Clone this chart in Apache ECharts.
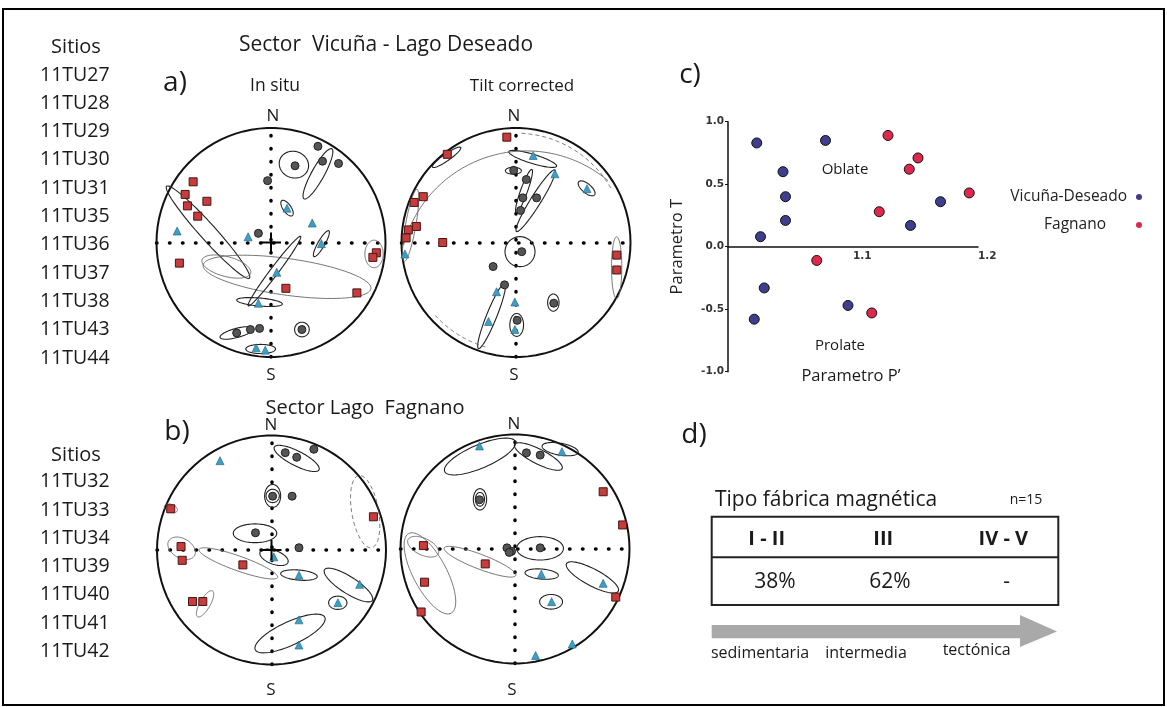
<!DOCTYPE html>
<html><head><meta charset="utf-8">
<script src="https://cdn.jsdelivr.net/npm/echarts@6/dist/echarts.min.js"></script>
<style>html,body{margin:0;padding:0;background:#fff}#c{width:1167px;height:707px}</style>
</head><body><div id="c"></div>
<script>
// ---------- site lists ----------
const sitesVicuna = ['11TU27','11TU28','11TU29','11TU30','11TU31','11TU35','11TU36','11TU37','11TU38','11TU43','11TU44'];
const sitesFagnano = ['11TU32','11TU33','11TU34','11TU39','11TU40','11TU41','11TU42'];

// ---------- panel c: P' vs T ----------
const vicunaP = [1.023,1.078,1.044,1.046,1.046,1.026,1.029,1.021,1.096,1.146,1.170];
const vicunaT = [0.83,0.85,0.60,0.40,0.21,0.08,-0.33,-0.58,-0.47,0.17,0.36];
const fagnanoP = [1.128,1.152,1.145,1.193,1.121,1.071,1.115];
const fagnanoT = [0.89,0.71,0.62,0.43,0.28,-0.11,-0.53];
const pTicks = [1.0,1.1,1.2];
const tTicks = [-1.0,-0.5,0.0,0.5,1.0];

// ---------- panel d ----------
const fabricTypes = ['I - II','III','IV - V'];
const fabricPct = ['38%','62%','-'];
const fabricScale = ['sedimentaria','intermedia','tectónica'];

// ---------- stereonets (normalised coords, N up) ----------
// a) In situ
const aInSituSquares = [[-0.68,0.53],[-0.75,0.42],[-0.73,0.32],[-0.56,0.36],[-0.64,0.23],[-0.80,-0.18],[0.92,-0.09],[0.89,-0.13],[0.75,-0.44],[0.13,-0.40]];
const aInSituCircles = [[0.21,0.67],[0.45,0.71],[0.41,0.84],[0.59,0.69],[-0.03,0.54],[-0.11,0.08],[0.27,-0.76],[-0.18,-0.76],[-0.30,-0.79],[-0.10,-0.75]];
const aInSituTriangles = [[-0.82,0.10],[0.14,0.30],[0.36,0.17],[0.44,-0.01],[-0.20,0.05],[0.05,-0.26],[-0.11,-0.53],[-0.13,-0.92],[-0.05,-0.94]];
const aInSituEllipses = [[0.20,0.68,0.13,0.115,-20,0],[0.41,0.60,0.25,0.055,61,0],[-0.55,0.09,0.54,0.07,-48,0],[0.14,-0.30,0.74,0.16,-8,1],[-0.39,-0.21,0.22,0.087,-15,1],[0.03,-0.25,0.38,0.035,53,0],[-0.10,-0.52,0.20,0.035,-5,0],[0.27,-0.76,0.064,0.064,0,0],[0.14,0.30,0.08,0.035,-55,0],[0.44,-0.01,0.13,0.03,60,0],[0.90,-0.10,0.08,0.12,0,1],[-0.30,-0.79,0.15,0.04,15,0],[-0.09,-0.93,0.13,0.04,0,0]];
const aInSituArcs = [];
// a) Tilt corrected
const aTiltSquares = [[-0.08,0.92],[-0.60,0.77],[-0.81,0.40],[-0.89,0.35],[-0.87,0.14],[-0.94,0.11],[-0.96,0.04],[-0.64,0.00],[0.88,-0.11],[0.88,-0.24]];
const aTiltCircles = [[-0.02,0.63],[0.09,0.55],[0.06,0.39],[0.18,0.39],[0.04,0.28],[0.05,-0.08],[-0.20,-0.21],[-0.10,-0.37],[0.33,-0.53],[0.01,-0.68]];
const aTiltTriangles = [[0.15,0.76],[0.34,0.60],[0.62,0.47],[-0.97,-0.10],[-0.17,-0.43],[-0.01,-0.52],[-0.24,-0.69],[-0.01,-0.76]];
const aTiltEllipses = [[0.146,0.73,0.218,0.04,-17,0],[0.035,-0.08,0.131,0.131,0,0],[0.172,0.365,0.317,0.045,58,0],[0.07,0.45,0.2,0.03,70,0],[-0.213,-0.642,0.306,0.044,68,0],[0.617,0.473,0.09,0.04,-40,0],[0.326,-0.525,0.05,0.075,0,0],[0.879,-0.22,0.045,0.27,0,1],[-0.92,0.15,0.045,0.32,-10,1],[-0.606,0.744,0.15,0.03,35,0],[-0.023,0.627,0.07,0.03,0,0],[0.006,-0.72,0.06,0.1,0,0]];
const aTiltArcs = [[0.09,-0.31,1.11,50,165,1],[0,0,0.955,30,88,2],[0,0,0.95,222,255,2]];
// b) In situ
const bInSituSquares = [[-0.88,0.36],[-0.79,0.03],[-0.78,-0.09],[-0.25,-0.13],[-0.69,-0.45],[-0.60,-0.45],[0.89,0.29]];
const bInSituCircles = [[0.12,0.85],[0.22,0.81],[0.37,0.88],[0.01,0.47],[0.18,0.47],[-0.14,0.15],[0.24,0.02]];
const bInSituTriangles = [[-0.45,0.78],[0.02,-0.06],[0.24,-0.22],[0.77,-0.30],[0.58,-0.46],[0.24,-0.61],[0.24,-0.83]];
const bInSituEllipses = [[0.22,0.80,0.219,0.064,-27,0],[0.01,0.472,0.058,0.058,0,0],[0.01,0.472,0.07,0.1,0,0],[-0.144,0.146,0.19,0.082,0,0],[0.022,-0.064,0.13,0.06,-20,0],[-0.29,-0.117,0.364,0.064,-19.6,1],[0.24,-0.219,0.16,0.044,-5,0],[0.672,-0.306,0.248,0.073,-32.7,0],[0.579,-0.461,0.08,0.058,0,0],[0.162,-0.729,0.335,0.102,25,0],[-0.785,0.015,0.13,0.085,-30,1],[-0.58,-0.47,0.045,0.13,-30,1],[0.818,0.335,0.117,0.32,10,2],[-0.879,0.364,0.06,0.035,-20,1]];
const bInSituArcs = [];
// b) Tilt corrected
const bTiltSquares = [[0.77,0.50],[0.94,0.21],[-0.80,0.03],[-0.26,-0.13],[-0.79,-0.29],[-0.82,-0.55],[0.88,-0.42]];
const bTiltCircles = [[-0.31,0.43],[0.10,0.84],[0.22,0.82],[-0.07,0.01],[-0.03,-0.02],[0.22,0.01],[-0.05,-0.03]];
const bTiltTriangles = [[-0.31,0.90],[0.41,0.85],[0.23,-0.22],[0.32,-0.46],[0.77,-0.30],[0.50,-0.83],[0.18,-0.93]];
const bTiltEllipses = [[-0.306,0.808,0.335,0.102,23,0],[0.204,0.808,0.233,0.064,-27,0],[0.394,0.872,0.16,0.052,-10,0],[-0.306,0.434,0.058,0.093,0,0],[-0.306,0.434,0.04,0.06,0,0],[0.219,0.006,0.204,0.102,0,0],[-0.306,-0.111,0.335,0.064,-21,1],[0.233,-0.219,0.146,0.044,-5,0],[0.676,-0.248,0.256,0.073,-28,0],[0.315,-0.461,0.1,0.064,0,0],[-0.743,-0.213,0.394,0.146,-62,1],[-0.802,0.02,0.146,0.073,-25,1]];
const bTiltArcs = [];

const netSquares = [aInSituSquares,aTiltSquares,bInSituSquares,bTiltSquares];
const netCircles = [aInSituCircles,aTiltCircles,bInSituCircles,bTiltCircles];
const netTriangles = [aInSituTriangles,aTiltTriangles,bInSituTriangles,bTiltTriangles];
const netEllipses = [aInSituEllipses,aTiltEllipses,bInSituEllipses,bTiltEllipses];
const netArcs = [aInSituArcs,aTiltArcs,bInSituArcs,bTiltArcs];
const netCross = [true,false,true,false];

// ---------- layout ----------
const FONT = '"Open Sans", "Noto Sans", sans-serif';
const NET_R = 114.5;
const NET_C = [[271,242.5],[516,242.5],[271.5,550],[515,549]];
const SC = {left:728, top:121.7, width:250, height:250};

const LINE_STYLES = [
  {stroke:'#222', lineWidth:1.1},
  {stroke:'#666', lineWidth:0.9},
  {stroke:'#555', lineWidth:0.8, lineDash:[4,3]},
  {stroke:'#111', lineWidth:2}
];

function ellipseItem(params, api){
  const cx=api.value(0), cy=api.value(1), rx=api.value(2), ry=api.value(3), rot=api.value(4)*Math.PI/180;
  const st = LINE_STYLES[api.value(5)] || LINE_STYLES[0];
  const pts=[]; const n=90;
  for(let i=0;i<n;i++){
    const t=i/n*2*Math.PI; const ex=rx*Math.cos(t), ey=ry*Math.sin(t);
    pts.push(api.coord([cx+ex*Math.cos(rot)-ey*Math.sin(rot), cy+ex*Math.sin(rot)+ey*Math.cos(rot)]));
  }
  return {type:'polygon', shape:{points:pts}, style:Object.assign({fill:'none'}, st)};
}
function arcItem(params, api){
  const cx=api.value(0), cy=api.value(1), r=api.value(2), a0=api.value(3), a1=api.value(4);
  const st = LINE_STYLES[api.value(5)] || LINE_STYLES[0];
  const pts=[]; const n=80;
  for(let i=0;i<=n;i++){
    const a=(a0+(a1-a0)*i/n)*Math.PI/180;
    pts.push(api.coord([cx+r*Math.cos(a), cy+r*Math.sin(a)]));
  }
  return {type:'polyline', shape:{points:pts}, style:Object.assign({fill:'none'}, st)};
}

const grids=[], xAxes=[], yAxes=[], series=[];
function netAxis(i){
  return {gridIndex:i, type:'value', min:-1, max:1,
    axisLine:{onZero:true, lineStyle:{color:'#000', width:3.5, type:[0.5,12.5], cap:'round'}},
    axisTick:{show:false}, axisLabel:{show:false}, splitLine:{show:false}};
}
for(let i=0;i<4;i++){
  const [cx,cy]=NET_C[i];
  grids.push({left:cx-NET_R, top:cy-NET_R, width:2*NET_R, height:2*NET_R});
  xAxes.push(netAxis(i)); yAxes.push(netAxis(i));
  series.push({type:'custom', xAxisIndex:i, yAxisIndex:i, renderItem:ellipseItem, data:[[0,0,1,1,0,3]], silent:true, z:1});
  series.push({type:'custom', xAxisIndex:i, yAxisIndex:i, renderItem:ellipseItem, data:netEllipses[i], silent:true, z:2});
  if(netArcs[i].length) series.push({type:'custom', xAxisIndex:i, yAxisIndex:i, renderItem:arcItem, data:netArcs[i], silent:true, z:2});
  series.push({type:'scatter', xAxisIndex:i, yAxisIndex:i, symbol:'circle', symbolSize:8, data:netCircles[i], itemStyle:{color:'#555', borderColor:'#222', borderWidth:1, opacity:1}, z:3});
  series.push({type:'scatter', xAxisIndex:i, yAxisIndex:i, symbol:'triangle', symbolSize:8, data:netTriangles[i], itemStyle:{color:'#3c9fc6', borderColor:'#1d5f78', borderWidth:0.6, opacity:1}, z:3});
  series.push({type:'scatter', xAxisIndex:i, yAxisIndex:i, symbol:'rect', symbolSize:8, data:netSquares[i], itemStyle:{color:'#c63b3b', borderColor:'#4a1515', borderWidth:1, opacity:1}, z:4});
  if(netCross[i]) series.push({type:'scatter', xAxisIndex:i, yAxisIndex:i, symbol:'path://M9,0h2v9h9v2h-9v9h-2v-9h-9v-2h9z', symbolSize:20, data:[[0,0]], itemStyle:{color:'#000', opacity:1}, z:5, silent:true});
}
// panel c grid
grids.push(SC);
xAxes.push({gridIndex:4, type:'value', min:pTicks[0], max:pTicks[pTicks.length-1], interval:0.1,
  offset:-125,
  axisLine:{onZero:false, lineStyle:{color:'#111', width:1.5}},
  axisTick:{show:false},
  axisLabel:{formatter:v=>Math.abs(v-pTicks[0])<1e-6?'':v.toFixed(1), fontSize:10.5, fontWeight:'bold', color:'#333', align:'left', margin:4, fontFamily:'"DejaVu Sans", sans-serif'},
  splitLine:{show:false}});
yAxes.push({gridIndex:4, type:'value', min:tTicks[0], max:tTicks[tTicks.length-1], interval:0.5,
  axisLine:{lineStyle:{color:'#111', width:1.5}},
  axisTick:{show:true, length:3, lineStyle:{color:'#111'}},
  axisLabel:{formatter:v=>v.toFixed(1), fontSize:10.5, fontWeight:'bold', color:'#333', margin:4, fontFamily:'"DejaVu Sans", sans-serif'},
  splitLine:{show:false},
  name:'Parametro T', nameLocation:'middle', nameGap:42, nameTextStyle:{fontSize:16.5, color:'#222', fontFamily:FONT}});
series.push({name:'Vicuña-Deseado', type:'scatter', xAxisIndex:4, yAxisIndex:4, symbolSize:10,
  data:vicunaP.map((p,i)=>[p,vicunaT[i]]), itemStyle:{color:'#3e3e8c', borderColor:'#111', borderWidth:1, opacity:1}, z:5});
series.push({name:'Fagnano', type:'scatter', xAxisIndex:4, yAxisIndex:4, symbolSize:10,
  data:fagnanoP.map((p,i)=>[p,fagnanoT[i]]), itemStyle:{color:'#e0284f', borderColor:'#111', borderWidth:1, opacity:1}, z:5});

// ---------- graphic texts ----------
function txt(t,x,y,size,opts){
  opts=opts||{};
  return {type:'text', x:x, y:y, rotation:opts.rot||0, z:10, silent:true,
    style:{text:t, font:(opts.weight||'normal')+' '+size+'px '+FONT, fill:opts.color||'#1a1a1a', textAlign:opts.align||'center', textVerticalAlign:'middle'}};
}
const graphic=[];
graphic.push({type:'rect', shape:{x:3, y:9, width:1161, height:696}, style:{fill:'none', stroke:'#000', lineWidth:2}, z:0, silent:true});
graphic.push(txt('Sitios',76,47,20));
sitesVicuna.forEach((s,i)=>graphic.push(txt(s,40,75+i*28.3,19.5,{align:'left'})));
graphic.push(txt('Sitios',76,455,20));
sitesFagnano.forEach((s,i)=>graphic.push(txt(s,40,481.7+i*28.3,19.5,{align:'left'})));
graphic.push(txt('Sector  Vicuña - Lago Deseado',386,45,21));
graphic.push(txt('a)',175,83,28));
graphic.push(txt('In situ',275,86,17.5));
graphic.push(txt('Tilt corrected',522,86,17));
graphic.push(txt('Sector Lago  Fagnano',365,408,20));
graphic.push(txt('b)',177,432,28));
const NS = [[273,116,271,375],[514,116,514,375],[271,425,271,690],[514,424,512,690]];
NS.forEach(p=>{graphic.push(txt('N',p[0],p[1],17)); graphic.push(txt('S',p[2],p[3],17));});
graphic.push(txt('c)',690,75,28));
graphic.push(txt('Oblate',845,170,15));
graphic.push(txt('Prolate',840,346,15));
graphic.push(txt('Parametro P\u2019',851,376,16.5));
graphic.push(txt('d)',694,435,28));
graphic.push(txt('Tipo fábrica magnética',715,500,21,{align:'left'}));
graphic.push(txt('n=15',1026,500,14));
graphic.push({type:'rect', shape:{x:711.7, y:516.7, width:346.6, height:88.3}, style:{fill:'none', stroke:'#222', lineWidth:2}, z:5, silent:true});
graphic.push({type:'line', shape:{x1:711.7, y1:557.3, x2:1058.3, y2:557.3}, style:{stroke:'#222', lineWidth:2}, z:5, silent:true});
const colX=[766.7,883.3,1003.3], colX2=[775,890,1006.7];
fabricTypes.forEach((t,i)=>graphic.push(txt(t,colX[i],539,20,{weight:'bold'})));
fabricPct.forEach((t,i)=>graphic.push(txt(t,colX2[i],581.7,21)));
graphic.push({type:'polygon', shape:{points:[[711.7,625],[1020,625],[1020,615],[1057,631.5],[1020,647],[1020,638.3],[711.7,638.3]]}, style:{fill:'#a9a9a9'}, z:5, silent:true});
const scaleX=[760,866,976.7], scaleY=[653.3,653.3,650];
fabricScale.forEach((t,i)=>graphic.push(txt(t,scaleX[i],scaleY[i],16)));

const chart = echarts.init(document.getElementById('c'), null, {renderer:'canvas'});
chart.setOption({
  animation:false,
  backgroundColor:'#fff',
  textStyle:{fontFamily:FONT},
  grid:grids, xAxis:xAxes, yAxis:yAxes, series:series,
  legend:[
    {data:['Vicuña-Deseado'], right:25, top:189, align:'right', icon:'circle', itemWidth:6, itemHeight:6, padding:0, itemStyle:{borderWidth:0},
     textStyle:{fontSize:15.5, color:'#222', fontFamily:FONT, padding:[0,4,0,0]}},
    {data:['Fagnano'], right:25, top:217, align:'right', icon:'circle', itemWidth:6, itemHeight:6, padding:0, itemStyle:{borderWidth:0},
     textStyle:{fontSize:15.5, color:'#222', fontFamily:FONT, padding:[0,25,0,0]}}
  ],
  graphic:graphic
});
</script></body></html>
